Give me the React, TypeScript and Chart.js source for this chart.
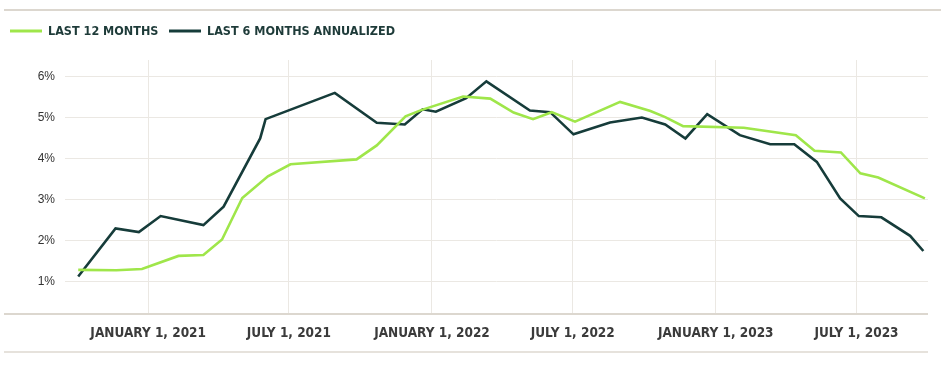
import React, { useEffect, useRef } from "react";
import { Chart, registerables } from "chart.js";

Chart.register(...registerables);

// Days since January 1, 2021
const last12Days = [-90, -41, -8, 39, 71, 95, 121, 154, 183, 268, 294, 331, 351, 405, 440, 470, 495, 519, 549, 607, 646, 665, 688, 766, 833, 857, 891, 916, 939, 999];
const last12Values = [1.29, 1.28, 1.31, 1.63, 1.65, 2.03, 3.04, 3.57, 3.86, 3.98, 4.32, 5.03, 5.18, 5.51, 5.46, 5.12, 4.96, 5.13, 4.9, 5.38, 5.16, 5.01, 4.79, 4.75, 4.57, 4.19, 4.15, 3.64, 3.54, 3.03];

const last6Days = [-90, -42, -12, 16, 71, 97, 144, 151, 240, 294, 330, 353, 370, 409, 435, 491, 517, 547, 594, 635, 665, 691, 719, 761, 800, 831, 860, 890, 914, 943, 980, 997];
const last6Values = [1.13, 2.3, 2.21, 2.6, 2.38, 2.83, 4.49, 4.96, 5.6, 4.87, 4.83, 5.2, 5.14, 5.47, 5.88, 5.17, 5.13, 4.59, 4.88, 5.0, 4.83, 4.49, 5.08, 4.57, 4.35, 4.35, 3.92, 3.03, 2.6, 2.57, 2.12, 1.75];

const seriesLabels = ["LAST 12 MONTHS", "LAST 6 MONTHS ANNUALIZED"];
const xTickDays = [0, 181, 365, 546, 730, 911];
const xTickLabels = ["JANUARY 1, 2021", "JULY 1, 2021", "JANUARY 1, 2022", "JULY 1, 2022", "JANUARY 1, 2023", "JULY 1, 2023"];
const yTickValues = [1, 2, 3, 4, 5, 6];

const GREEN = "#9fe64a";
const DARK = "#163c3a";
const NARROW = "'Liberation Sans Narrow', 'DejaVu Sans Condensed', sans-serif";

const decorPlugin = {
  id: "decor",
  afterDraw(chart: any) {
    const ctx = chart.ctx;
    const area = chart.chartArea;
    ctx.save();
    ctx.lineWidth = 2;
    ctx.strokeStyle = "#dcd7cf";
    ctx.beginPath();
    ctx.moveTo(4, 10);
    ctx.lineTo(941, 10);
    ctx.moveTo(4, area.bottom + 1);
    ctx.lineTo(area.right, area.bottom + 1);
    ctx.stroke();
    ctx.strokeStyle = "#e6e2dc";
    ctx.beginPath();
    ctx.moveTo(4, 352);
    ctx.lineTo(area.right, 352);
    ctx.stroke();

    // legend
    ctx.font = "bold 12.5px " + NARROW;
    ctx.textBaseline = "middle";
    ctx.textAlign = "left";
    const starts = [10, 169];
    chart.data.datasets.forEach((ds: any, i: number) => {
      const x = starts[i];
      ctx.strokeStyle = ds.borderColor;
      ctx.lineWidth = 3;
      ctx.beginPath();
      ctx.moveTo(x, 31);
      ctx.lineTo(x + 32, 31);
      ctx.stroke();
      ctx.fillStyle = "#1e3b39";
      ctx.fillText(ds.label, x + 38, 32);
    });
    ctx.restore();
  },
};

export default function App() {
  const ref = useRef<HTMLCanvasElement>(null);
  useEffect(() => {
    document.body.style.margin = "0";
    const chart = new Chart(ref.current!, {
      type: "line",
      data: {
        datasets: [
          {
            label: seriesLabels[0],
            data: last12Days.map((d, i) => ({ x: d, y: last12Values[i] })),
            borderColor: GREEN,
            backgroundColor: GREEN,
            borderWidth: 2.6,
            pointRadius: 0,
            tension: 0,
          },
          {
            label: seriesLabels[1],
            data: last6Days.map((d, i) => ({ x: d, y: last6Values[i] })),
            borderColor: DARK,
            backgroundColor: DARK,
            borderWidth: 2.6,
            pointRadius: 0,
            tension: 0,
          },
        ],
      },
      options: {
        animation: false,
        responsive: false,
        devicePixelRatio: 1,
        layout: { padding: { top: 60, right: 17, left: 0, bottom: 0 } },
        plugins: { legend: { display: false }, tooltip: { enabled: false } },
        scales: {
          x: {
            type: "linear",
            min: -107,
            max: 1003,
            afterBuildTicks: (scale: any) => {
              scale.ticks = xTickDays.map((v) => ({ value: v }));
            },
            afterFit: (scale: any) => {
              scale.height = 52;
            },
            ticks: {
              autoSkip: false,
              maxRotation: 0,
              padding: 12,
              color: "#3b3b3b",
              font: { family: NARROW, weight: "bold", size: 13.5 },
              callback: (v: any) => {
                const i = xTickDays.indexOf(Number(v));
                return i >= 0 ? xTickLabels[i] : "";
              },
            },
            grid: { color: "#ebe8e3", drawTicks: false, lineWidth: 1 },
            border: { display: false },
          },
          y: {
            min: 0.24,
            max: 6.4,
            afterBuildTicks: (scale: any) => {
              scale.ticks = yTickValues.map((v) => ({ value: v }));
            },
            afterFit: (scale: any) => {
              scale.width = 65;
            },
            ticks: {
              padding: 10,
              color: "#333333",
              font: { family: "'Liberation Sans', Arial, sans-serif", size: 12 },
              callback: (v: any) => v + "%",
            },
            grid: { color: "#ebe8e3", drawTicks: false, lineWidth: 1 },
            border: { display: false },
          },
        },
      },
      plugins: [decorPlugin],
    });
    return () => chart.destroy();
  }, []);
  return (
    <div style={{ width: 945, height: 365, position: "relative" }}>
      <canvas ref={ref} width={945} height={365} />
    </div>
  );
}
